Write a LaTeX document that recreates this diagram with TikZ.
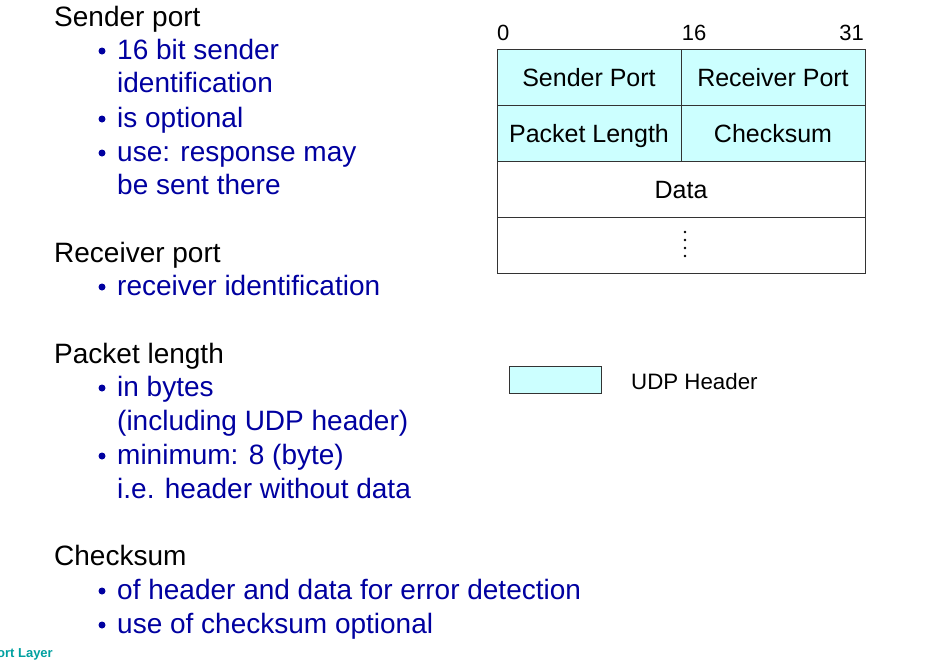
\documentclass[tikz,border=0pt]{standalone}
\usepackage{fontspec}
\setmainfont{Liberation Sans}
\begin{document}
\begin{tikzpicture}[x=1pt,y=-1pt,
  head/.style={anchor=base west,font=\fontsize{28}{28}\selectfont,inner sep=0},
  item/.style={anchor=base west,font=\fontsize{28}{28}\selectfont,text=itemblue,inner sep=0},
  bul/.style={circle,fill=itemblue,inner sep=0,minimum size=7pt},
  cell/.style={draw=black!80,line width=0.8pt},
  ctext/.style={anchor=base,font=\fontsize{25}{25}\selectfont,inner sep=0},
  num/.style={anchor=base,font=\fontsize{22}{22}\selectfont,inner sep=0}]
\definecolor{itemblue}{RGB}{0,0,160}
\definecolor{hdr}{RGB}{204,255,255}
\definecolor{teal}{RGB}{0,160,160}
\useasboundingbox (0,0) rectangle (930,662);
% left text
\node[head] (h1) at (54,26) {Sender port};
\node[bul] (b1) at (102,51) {}; \node[item] (t1) at (117,59) {16 bit sender};
\node[item] (t1b) at (117,92) {identification};
\node[bul] (b2) at (102,119) {}; \node[item] (t2) at (117,127) {is optional};
\node[bul] (b3) at (102,153) {}; \node[item] (t3) at (117,161) {use: response may};
\node[item] (t3b) at (117,194) {be sent there};
\node[head] (h2) at (54,262) {Receiver port};
\node[bul] (b4) at (102,287) {}; \node[item] (t4) at (117,295) {receiver identification};
\node[head] (h3) at (54,363) {Packet length};
\node[bul] (b5) at (102,388) {}; \node[item] (t5) at (117,396) {in bytes};
\node[item] (t5b) at (117,430) {(including UDP header)};
\node[bul] (b6) at (102,456) {}; \node[item] (t6) at (117,464) {minimum: 8 (byte)};
\node[item] (t6b) at (117,498) {i.e. header without data};
\node[head] (h4) at (54,565) {Checksum};
\node[bul] (b7) at (102,591) {}; \node[item] (t7) at (117,599) {of header and data for error detection};
\node[bul] (b8) at (102,625) {}; \node[item] (t8) at (117,633) {use of checksum optional};
% table
\fill[hdr] (497,49) rectangle (865,161);
\draw[cell] (497,49) rectangle (865,273);
\draw[cell] (497,105) -- (865,105) (497,161) -- (865,161) (497,217) -- (865,217);
\draw[cell] (681,49) -- (681,161);
\node[ctext] (sp) at (589,86) {Sender Port};
\node[ctext] (rp) at (773,86) {Receiver Port};
\node[ctext] (pl) at (589,142) {Packet Length};
\node[ctext] (cs) at (773,142) {Checksum};
\node[ctext] (dt) at (681,198) {Data};
\foreach \yy in {232,240,248,256}
  \fill (685,\yy) circle (1.4pt);
\node[num,anchor=base west] (n0) at (497,40) {0};
\node[num] (n16) at (694,40) {16};
\node[num,anchor=base east] (n31) at (864,40) {31};
% legend
\draw[cell,fill=hdr] (509,366) rectangle (601,393);
\node[anchor=base west,font=\fontsize{22.3}{22.3}\selectfont,inner sep=0] (lg) at (631,389) {UDP Header};
% footer
\node[anchor=base east,font=\bfseries\fontsize{13}{13}\selectfont,text=teal,inner sep=0] (ft) at (53,657) {ort Layer};
\end{tikzpicture}
\end{document}
